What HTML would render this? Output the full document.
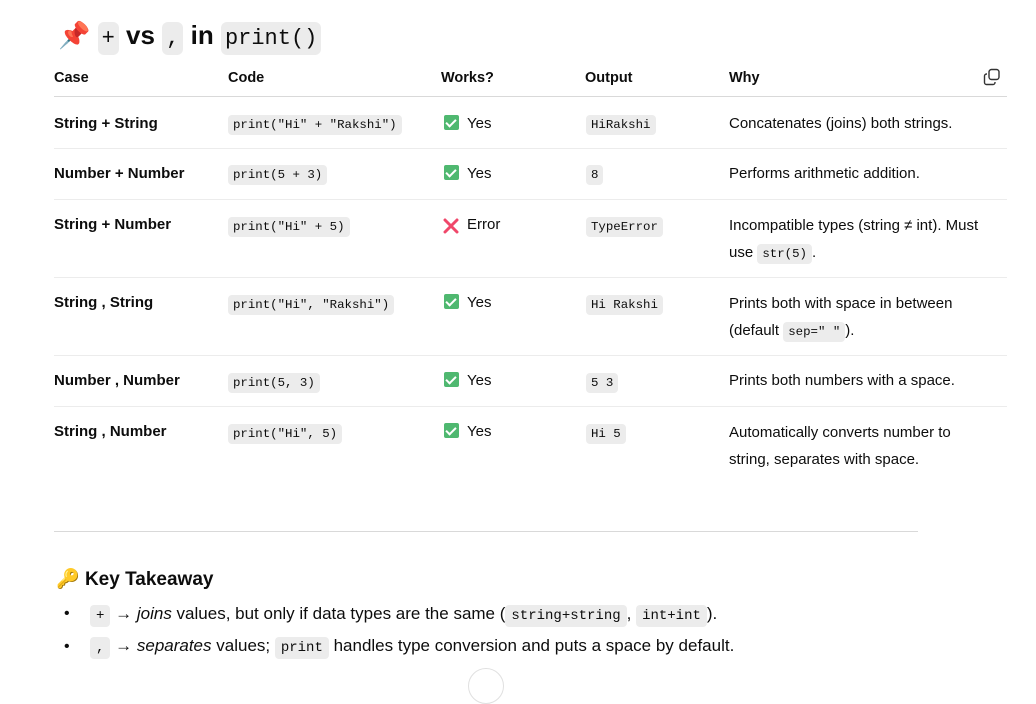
<!DOCTYPE html>
<html><head><meta charset="utf-8"><style>
body{margin:0;width:1036px;height:678px;background:#fff;position:relative;overflow:hidden;font-family:"Liberation Sans","DejaVu Sans",sans-serif;color:#0d0d0d;}
.a{position:absolute;white-space:nowrap;font-size:15px;line-height:20px;}
.b{font-weight:bold;}
code{font-family:"Liberation Mono",monospace;font-size:12.4px;background:#ececec;border-radius:4px;padding:3px 5px;}
.h{position:absolute;height:1px;background:#ececec;left:54px;width:953px;}
.ck{display:inline-block;width:15px;height:15px;background:#4fb870;border-radius:2px;vertical-align:-2px;margin-right:8px;position:relative}
.ck:after{content:"";position:absolute;left:4px;top:2px;width:4px;height:8px;border:solid #fff;border-width:0 2px 2px 0;transform:rotate(45deg)}
.t{position:absolute;font-size:26px;font-weight:bold;line-height:34px;top:18px;left:58px;white-space:nowrap}
.t code{font-size:22px;font-weight:normal;padding:4px 4px;border-radius:6px}
.k{font-size:17px}
.k code{font-size:14px;padding:3px 6px}
</style></head><body>
<div class="t"><span style="color:#e8305a">📌</span> <code>+</code> vs <code>,</code> in <code>print()</code></div>

<div class="a b" style="left:54px;top:68px;font-size:14.5px">Case</div>
<div class="a b" style="left:228px;top:68px;font-size:14.5px">Code</div>
<div class="a b" style="left:441px;top:68px;font-size:14.5px">Works?</div>
<div class="a b" style="left:585px;top:68px;font-size:14.5px">Output</div>
<div class="a b" style="left:729px;top:68px;font-size:14.5px">Why</div>
<svg style="position:absolute;left:983px;top:68px" width="18" height="18" viewBox="0 0 18 18" fill="none" stroke="#333" stroke-width="1.4"><rect x="6" y="1.5" width="10" height="10" rx="2.5"/><path d="M4 6H3.5A2 2 0 0 0 1.5 8v6.5a2 2 0 0 0 2 2H10a2 2 0 0 0 2-2V14"/></svg>
<div class="h" style="top:96px;background:#d9d9d9"></div>

<div class="a b" style="left:54px;top:114px">String + String</div>
<div class="a" style="left:228px;top:114px"><code>print("Hi" + "Rakshi")</code></div>
<div class="a" style="left:444px;top:114px"><span class="ck"></span>Yes</div>
<div class="a" style="left:586px;top:114px"><code>HiRakshi</code></div>
<div class="a" style="left:729px;top:114px">Concatenates (joins) both strings.</div>
<div class="h" style="top:148px"></div>

<div class="a b" style="left:54px;top:164px">Number + Number</div>
<div class="a" style="left:228px;top:164px"><code>print(5 + 3)</code></div>
<div class="a" style="left:444px;top:164px"><span class="ck"></span>Yes</div>
<div class="a" style="left:586px;top:164px"><code>8</code></div>
<div class="a" style="left:729px;top:164px">Performs arithmetic addition.</div>
<div class="h" style="top:199px"></div>

<div class="a b" style="left:54px;top:215px">String + Number</div>
<div class="a" style="left:228px;top:216px"><code>print("Hi" + 5)</code></div>
<svg style="position:absolute;left:443px;top:218px" width="16" height="16" viewBox="0 0 16 16"><path d="M2 2L14 14M14 2L2 14" stroke="#f0476a" stroke-width="3" stroke-linecap="round"/></svg>
<div class="a" style="left:467px;top:215px">Error</div>
<div class="a" style="left:586px;top:216px"><code>TypeError</code></div>
<div class="a" style="left:729px;top:212px;line-height:27px">Incompatible types (string ≠ int). Must<br>use <code>str(5)</code>.</div>
<div class="h" style="top:277px"></div>

<div class="a b" style="left:54px;top:293px">String , String</div>
<div class="a" style="left:228px;top:294px"><code>print("Hi", "Rakshi")</code></div>
<div class="a" style="left:444px;top:293px"><span class="ck"></span>Yes</div>
<div class="a" style="left:586px;top:294px"><code>Hi Rakshi</code></div>
<div class="a" style="left:729px;top:290px;line-height:27px">Prints both with space in between<br>(default <code>sep=" "</code>).</div>
<div class="h" style="top:355px"></div>

<div class="a b" style="left:54px;top:371px">Number , Number</div>
<div class="a" style="left:228px;top:372px"><code>print(5, 3)</code></div>
<div class="a" style="left:444px;top:371px"><span class="ck"></span>Yes</div>
<div class="a" style="left:586px;top:372px"><code>5 3</code></div>
<div class="a" style="left:729px;top:371px">Prints both numbers with a space.</div>
<div class="h" style="top:406px"></div>

<div class="a b" style="left:54px;top:422px">String , Number</div>
<div class="a" style="left:228px;top:423px"><code>print("Hi", 5)</code></div>
<div class="a" style="left:444px;top:422px"><span class="ck"></span>Yes</div>
<div class="a" style="left:586px;top:423px"><code>Hi 5</code></div>
<div class="a" style="left:729px;top:419px;line-height:27px">Automatically converts number to<br>string, separates with space.</div>

<div style="position:absolute;left:54px;top:531px;width:864px;height:1px;background:#d9d9d9"></div>

<div class="a b" style="left:56px;top:568px;font-size:19px;line-height:24px"><span style="color:#f0a030">🔑</span> Key Takeaway</div>
<div class="a" style="left:64px;top:604px;font-size:16px">•</div>
<div class="a k" style="left:90px;top:604px"><code>+</code> → <i>joins</i> values, but only if data types are the same (<code>string+string</code>, <code>int+int</code>).</div>
<div class="a" style="left:64px;top:637px;font-size:16px">•</div>
<div class="a k" style="left:90px;top:636px"><code>,</code> → <i>separates</i> values; <code>print</code> handles type conversion and puts a space by default.</div>
<div style="position:absolute;left:468px;top:668px;width:34px;height:34px;border:1px solid #e0e0e0;border-radius:50%;background:#fff"></div>
</body></html>
